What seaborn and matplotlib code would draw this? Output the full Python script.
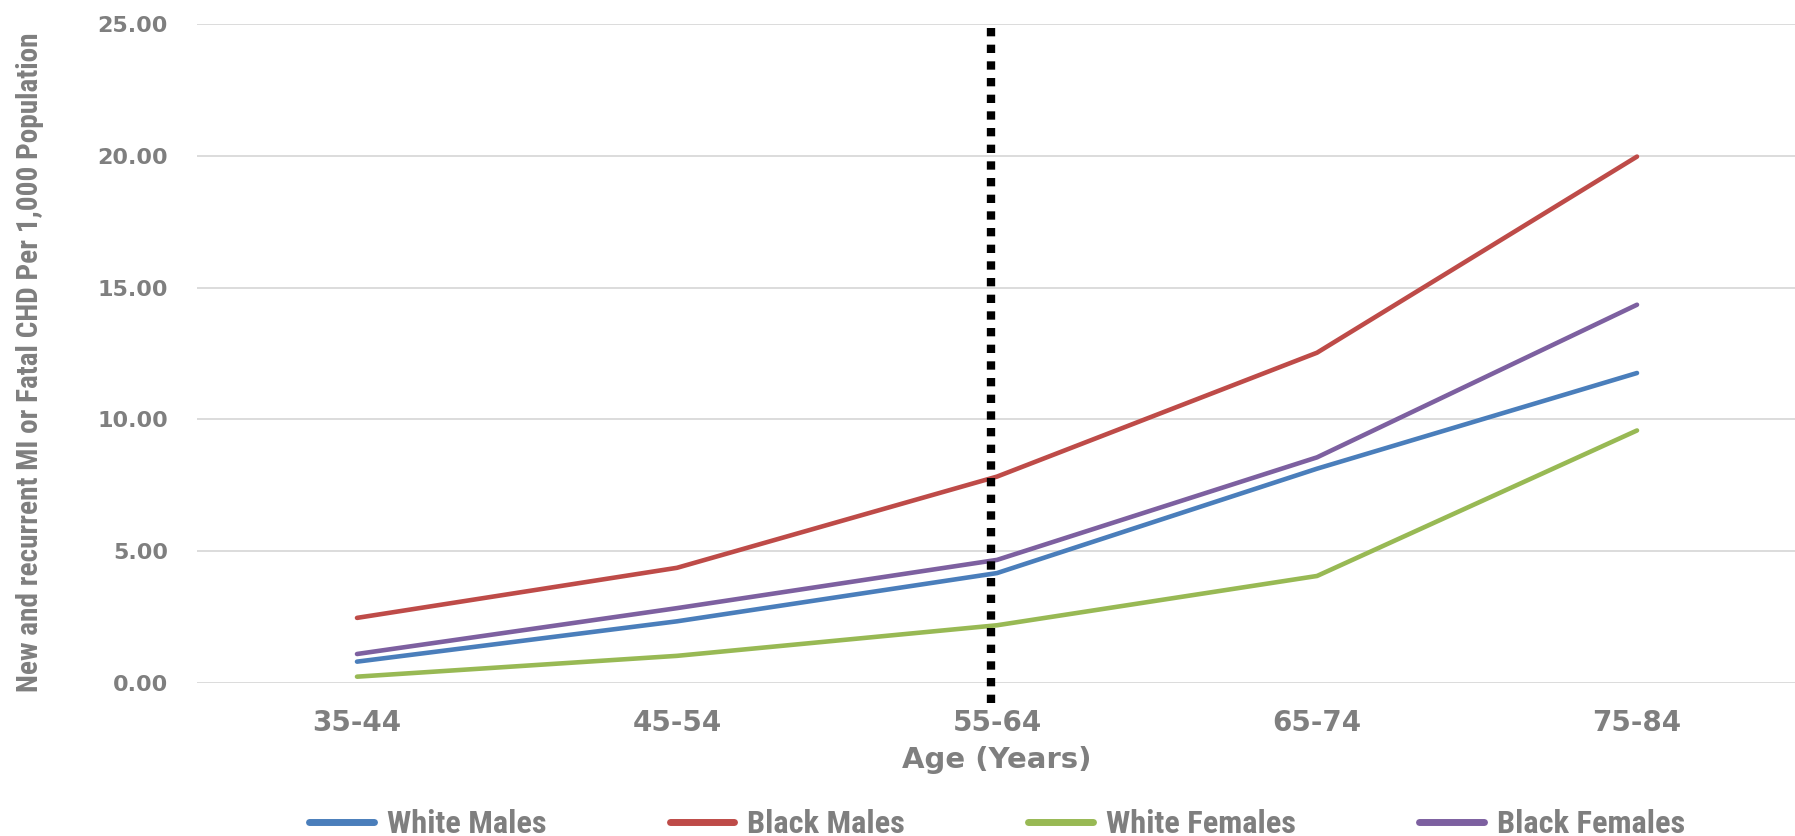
import matplotlib
matplotlib.use("Agg")
import matplotlib.pyplot as plt
from matplotlib import font_manager
from matplotlib.lines import Line2D
import numpy as np
import pandas as pd
import seaborn as sns

# Age groups and incidence of new/recurrent MI or fatal CHD per 1,000
age_groups = ["35-44", "45-54", "55-64", "65-74", "75-84"]
white_males = [0.81, 2.34, 4.17, 8.13, 11.76]
black_males = [2.47, 4.37, 7.83, 12.53, 19.97]
white_females = [0.24, 1.03, 2.19, 4.06, 9.58]
black_females = [1.10, 2.84, 4.67, 8.56, 14.35]

series_names = ["White Males", "Black Males", "White Females", "Black Females"]
series_values = [white_males, black_males, white_females, black_females]
series_colors = ["#4a7ebb", "#be4b48", "#98b954", "#7d60a0"]

y_ticks = [0, 5, 10, 15, 20, 25]
marker_group = "55-64"

df = pd.DataFrame(
    [(g, a, v) for g, vals in zip(series_names, series_values)
     for a, v in zip(age_groups, vals)],
    columns=["group", "age", "rate"],
)

sns.set_theme(style="white")
TEXT_GRAY = "#7f7f7f"
GRID_GRAY = "#d9d9d9"

available = {f.name for f in font_manager.fontManager.ttflist}


def first_font(cands):
    for c in cands:
        if c in available:
            return c
    return "DejaVu Sans"


wide_font = first_font(["DejaVu Sans"])
narrow_font = first_font(["Liberation Sans Narrow", "DejaVu Sans Condensed",
                          "Roboto Condensed", "Liberation Sans", "DejaVu Sans"])
plt.rcParams["font.family"] = [wide_font]

W, H, DPI = 1795, 836, 100
fig = plt.figure(figsize=(W / DPI, H / DPI), dpi=DPI)
ax = fig.add_axes([197 / W, 1 - 683 / H, (1797 - 197) / W, (683 - 24) / H])

sns.lineplot(data=df, x="age", y="rate", hue="group", hue_order=series_names,
             palette=series_colors, linewidth=3.3, sort=False, ax=ax,
             legend=False)
for ln in ax.lines:
    ln.set_solid_capstyle("round")
    ln.set_solid_joinstyle("round")

ax.set_xlim(-0.5, len(age_groups) - 0.5)
ax.set_ylim(0, 25)
ax.set_yticks(y_ticks)
ax.set_yticklabels([f"{t:.2f}" for t in y_ticks])
ax.yaxis.grid(True, color=GRID_GRAY, linewidth=1.3)
ax.xaxis.grid(False)
ax.set_axisbelow(True)
for s in ax.spines.values():
    s.set_visible(False)
ax.tick_params(axis="y", length=0, pad=21, labelsize=16, labelcolor=TEXT_GRAY)
ax.tick_params(axis="x", length=0, pad=19, labelsize=20, labelcolor=TEXT_GRAY)
for lab in ax.get_xticklabels() + ax.get_yticklabels():
    lab.set_fontweight("bold")

ax.set_xlabel("Age (Years)", fontsize=21, fontweight="bold", color=TEXT_GRAY,
              labelpad=6)
ax.set_ylabel("")

# Dotted divider at the 55-64 age group
xi = age_groups.index(marker_group) - 0.02
ax.axvline(xi, ymin=-0.03, ymax=1.0, color="black", linewidth=6.0,
           linestyle=(0, (1, 1)), dash_capstyle="butt", clip_on=False,
           zorder=5)

# Rotated y-axis title, sized to span the plot height
ylab = fig.text(30 / W, 1 - 362 / H,
                "New and recurrent MI or Fatal CHD Per 1,000 Population",
                rotation=90, ha="center", va="center", fontsize=20,
                fontweight="bold", color=TEXT_GRAY, family=narrow_font)
fig.canvas.draw()
ext = ylab.get_window_extent()
ylab.set_fontsize(20 * 659 / ext.height)

handles = [Line2D([], [], color=c, linewidth=5, solid_capstyle="round")
           for c in series_colors]


def make_legend(fs):
    return fig.legend(handles, series_names, loc="center",
                      bbox_to_anchor=(997 / W, 1 - 824 / H), ncol=4,
                      frameon=False, handlelength=2.0,
                      handletextpad=0.4, columnspacing=3.8,
                      prop={"family": narrow_font, "weight": "bold",
                            "size": fs},
                      labelcolor=TEXT_GRAY)


leg = make_legend(20)
fig.canvas.draw()
w = leg.get_texts()[2].get_window_extent().width
leg.remove()
leg = make_legend(20 * 189 / w)

fig.savefig("out.png", dpi=DPI, facecolor="white")
